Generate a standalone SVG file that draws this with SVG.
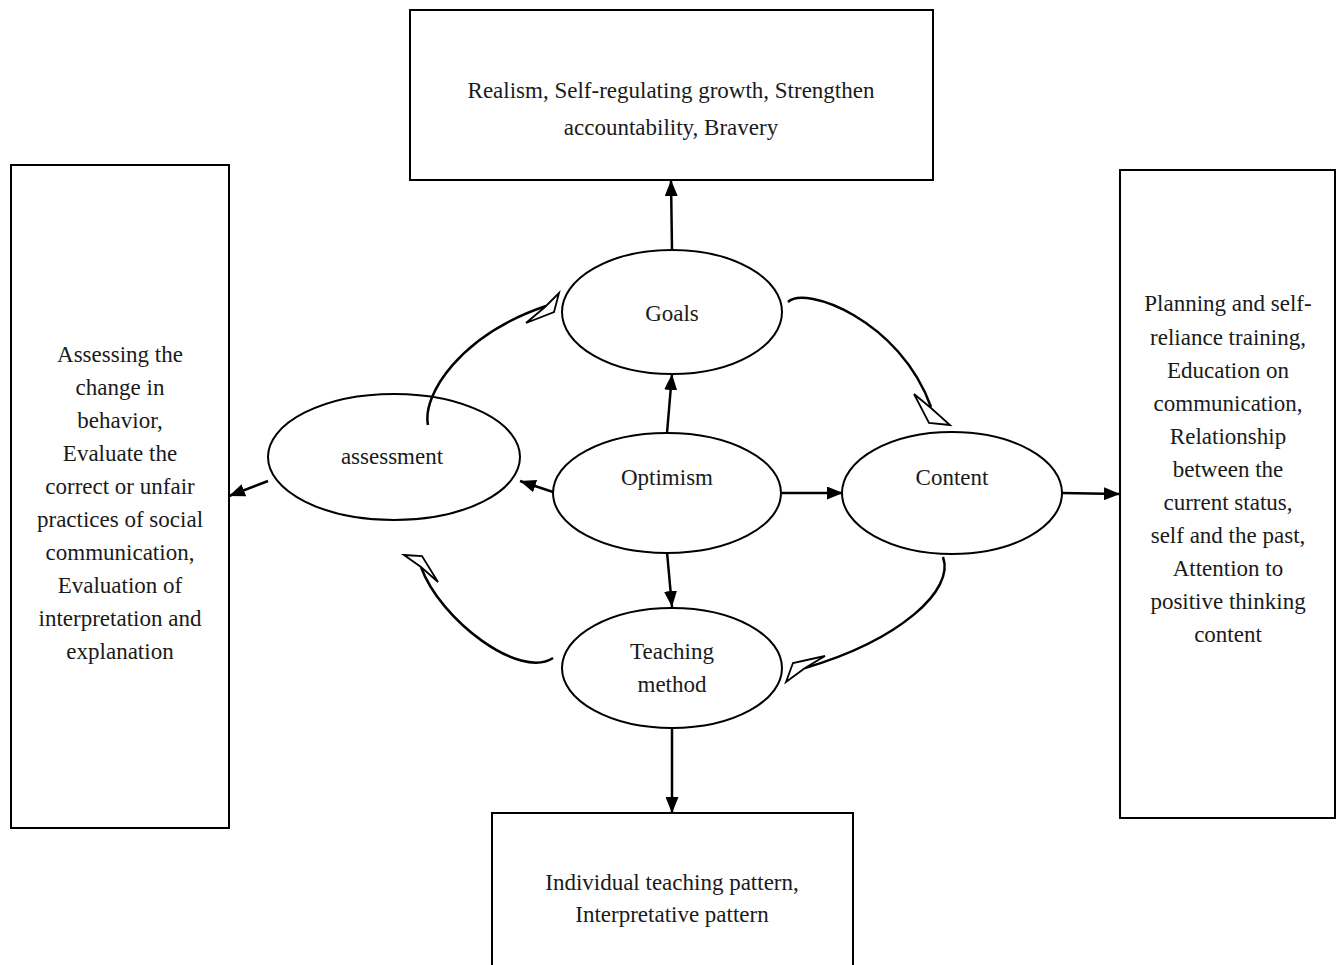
<svg xmlns="http://www.w3.org/2000/svg" width="1341" height="965" viewBox="0 0 1341 965">
<style>
.box{fill:#fff;stroke:#000;stroke-width:2}
.ell{fill:#fff;stroke:#000;stroke-width:2}
.t{font-family:"Liberation Serif","Times New Roman",serif;font-size:23px;fill:#1a1a1a;text-anchor:middle}
.ln{stroke:#000;stroke-width:2.5;fill:none}
.cv{stroke:#000;stroke-width:2.5;fill:none}
.oh{fill:#fff;stroke:#000;stroke-width:1.8;stroke-linejoin:miter}
</style>
<defs>
<marker id="ah" viewBox="0 0 16 13" refX="16" refY="6.5" markerWidth="16" markerHeight="13" markerUnits="userSpaceOnUse" orient="auto">
<path d="M0,0 L16,6.5 L0,13 Z" fill="#000"/>
</marker>
</defs>
<rect width="1341" height="965" fill="#fff"/>
<g id="top-box">
<rect class="box" x="410" y="10" width="523" height="170"/>
<text class="t" x="671" y="98">Realism, Self-regulating growth, Strengthen</text>
<text class="t" x="671" y="135">accountability, Bravery</text>
</g>
<g id="left-box">
<rect class="box" x="11" y="165" width="218" height="663"/>
<text class="t" x="120" y="362">Assessing the</text>
<text class="t" x="120" y="395">change in</text>
<text class="t" x="120" y="428">behavior,</text>
<text class="t" x="120" y="461">Evaluate the</text>
<text class="t" x="120" y="494">correct or unfair</text>
<text class="t" x="120" y="527">practices of social</text>
<text class="t" x="120" y="560">communication,</text>
<text class="t" x="120" y="593">Evaluation of</text>
<text class="t" x="120" y="626">interpretation and</text>
<text class="t" x="120" y="659">explanation</text>
</g>
<g id="right-box">
<rect class="box" x="1120" y="170" width="215" height="648"/>
<text class="t" x="1228" y="311">Planning and self-</text>
<text class="t" x="1228" y="345">reliance training,</text>
<text class="t" x="1228" y="378">Education on</text>
<text class="t" x="1228" y="411">communication,</text>
<text class="t" x="1228" y="444">Relationship</text>
<text class="t" x="1228" y="477">between the</text>
<text class="t" x="1228" y="510">current status,</text>
<text class="t" x="1228" y="543">self and the past,</text>
<text class="t" x="1228" y="576">Attention to</text>
<text class="t" x="1228" y="609">positive thinking</text>
<text class="t" x="1228" y="642">content</text>
</g>
<g id="bottom-box">
<rect class="box" x="492" y="813" width="361" height="160"/>
<text class="t" x="672" y="890">Individual teaching pattern,</text>
<text class="t" x="672" y="922">Interpretative pattern</text>
</g>
<g id="goals">
<ellipse class="ell" cx="672" cy="312" rx="110" ry="62"/>
<text class="t" x="672" y="321">Goals</text>
</g>
<g id="optimism">
<ellipse class="ell" cx="667" cy="493" rx="114" ry="60"/>
<text class="t" x="667" y="485">Optimism</text>
</g>
<g id="content">
<ellipse class="ell" cx="952" cy="493" rx="110" ry="61"/>
<text class="t" x="952" y="485">Content</text>
</g>
<g id="assessment">
<ellipse class="ell" cx="394" cy="457" rx="126" ry="63"/>
<text class="t" x="392" y="464">assessment</text>
</g>
<g id="teaching">
<ellipse class="ell" cx="672" cy="668" rx="110" ry="60"/>
<text class="t" x="672" y="659">Teaching</text>
<text class="t" x="672" y="692">method</text>
</g>
<g id="connectors">
<line class="ln" x1="672" y1="250" x2="671" y2="180" marker-end="url(#ah)"/>
<line class="ln" x1="667" y1="433" x2="672" y2="374" marker-end="url(#ah)"/>
<line class="ln" x1="553" y1="492" x2="520" y2="481" marker-end="url(#ah)"/>
<line class="ln" x1="782" y1="493" x2="843" y2="493" marker-end="url(#ah)"/>
<line class="ln" x1="667" y1="552" x2="672" y2="607" marker-end="url(#ah)"/>
<line class="ln" x1="672" y1="728" x2="672" y2="813" marker-end="url(#ah)"/>
<line class="ln" x1="268" y1="481" x2="229" y2="496" marker-end="url(#ah)"/>
<line class="ln" x1="1062" y1="493" x2="1120" y2="494" marker-end="url(#ah)"/>
<path class="cv" d="M428,425 C422,395 460,335 546,306"/>
<polygon class="oh" points="559,293 554,312 526,323 545,307"/>
<path class="cv" d="M788,302 C805,285 900,320 931,407"/>
<polygon class="oh" points="950,425 929,423 914,394 931,408"/>
<path class="cv" d="M943,557 C955,590 900,640 805,668"/>
<polygon class="oh" points="786,682 793,663 825,656 805,668"/>
<path class="cv" d="M553,658 C520,680 440,620 421,567"/>
<polygon class="oh" points="404,555 422,556 438,582 421,567"/>
</g>
</svg>
